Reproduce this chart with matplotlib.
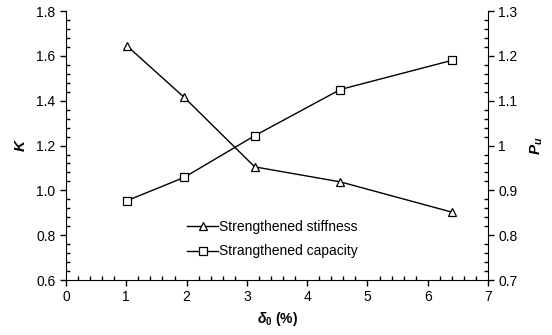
import matplotlib.pyplot as plt
from matplotlib.ticker import MultipleLocator, FormatStrFormatter

plt.rcParams['font.family'] = ['Liberation Sans', 'DejaVu Sans']
plt.rcParams['font.size'] = 10
plt.rcParams['mathtext.fontset'] = 'custom'
plt.rcParams['mathtext.it'] = 'Liberation Sans:italic:bold'
plt.rcParams['mathtext.rm'] = 'Liberation Sans:bold'

# data
delta0 = [1.01, 1.96, 3.13, 4.55, 6.40]
stiffness = [1.645, 1.415, 1.105, 1.038, 0.903]
capacity = [0.877, 0.929, 1.022, 1.125, 1.190]

fig = plt.figure(figsize=(5.52, 3.35), dpi=100)
ax = fig.add_axes([0.1196, 0.164, 0.7645, 0.803])
ax2 = ax.twinx()

l1, = ax.plot(delta0, stiffness, color='black', lw=1.0, marker='^', ms=6,
              mfc='white', mec='black', mew=0.9, label='Strengthened stiffness')
l2, = ax2.plot(delta0, capacity, color='black', lw=1.0, marker='s', ms=6,
               mfc='white', mec='black', mew=0.9, label='Strangthened capacity')

ax.set_xlim(0, 7)
ax.set_ylim(0.6, 1.8)
ax2.set_ylim(0.7, 1.3)

ax.xaxis.set_major_locator(MultipleLocator(1))
ax.xaxis.set_minor_locator(MultipleLocator(0.2))
ax.yaxis.set_major_locator(MultipleLocator(0.2))
ax.yaxis.set_minor_locator(MultipleLocator(0.04))
ax.yaxis.set_major_formatter(FormatStrFormatter('%.1f'))
ax2.yaxis.set_major_locator(MultipleLocator(0.1))
ax2.yaxis.set_minor_locator(MultipleLocator(0.02))
ax2.set_yticks([0.7, 0.8, 0.9, 1.0, 1.1, 1.2, 1.3])
ax2.set_yticklabels(['0.7', '0.8', '0.9', '1', '1.1', '1.2', '1.3'])

for a in (ax, ax2):
    a.spines['top'].set_visible(False)
    a.tick_params(which='major', direction='out', length=4, width=1, labelsize=10)
    a.tick_params(which='minor', direction='in', length=3, width=1)
ax.spines['right'].set_visible(False)
ax2.spines['left'].set_visible(False)
ax2.spines['bottom'].set_visible(False)

ax.set_xlabel(r'$\delta_0$ (%)', fontweight='bold', fontsize=10, labelpad=4)
ax.set_ylabel('K', fontweight='bold', fontstyle='italic', fontsize=11, labelpad=6)
ax2.set_ylabel(r'$P_u$', fontsize=11, labelpad=8)

ax.legend(handles=[l1, l2], loc='center left', bbox_to_anchor=(0.258, 0.152),
          frameon=False, fontsize=10, handlelength=2.2, handletextpad=0.1,
          labelspacing=0.75)

fig.savefig('out.png', dpi=100)
